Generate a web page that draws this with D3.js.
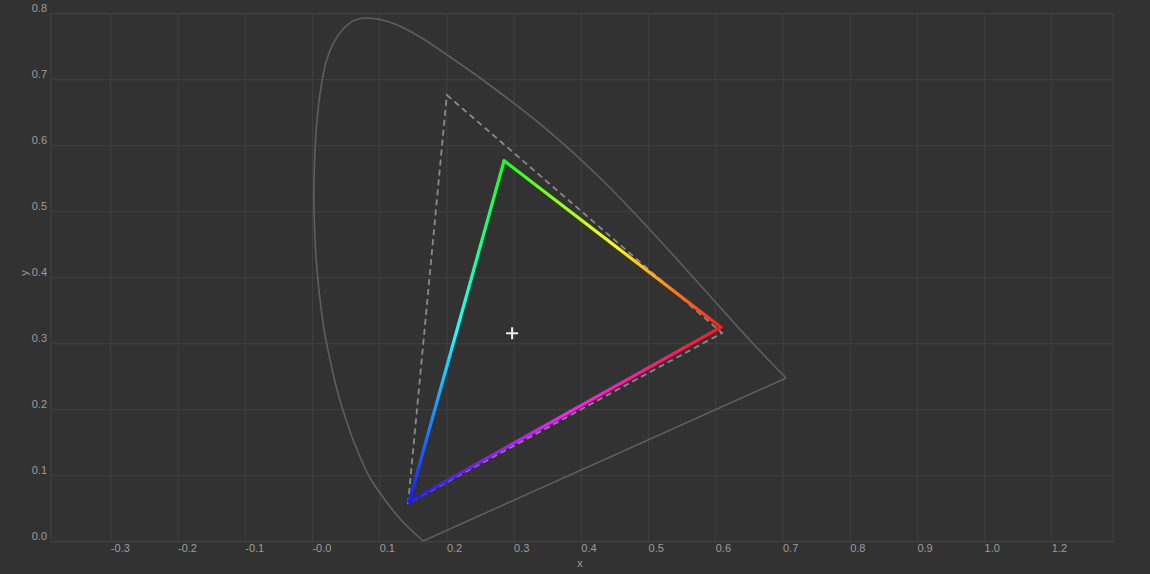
<!DOCTYPE html>
<html><head><meta charset="utf-8">
<script src="https://cdn.jsdelivr.net/npm/d3@7"></script>
<style>html,body{margin:0;padding:0;background:#323232;}svg{display:block;}</style>
</head><body>
<svg id="c" width="1150" height="574"></svg>
<script>
// ---- data ----
const xTickValues = [-0.3,-0.2,-0.1,0.0,0.1,0.2,0.3,0.4,0.5,0.6,0.7,0.8,0.9,1.0,1.1];
const xTickLabels = ["-0.3","-0.2","-0.1","-0.0","0.1","0.2","0.3","0.4","0.5","0.6","0.7","0.8","0.9","1.0","1.2"];
const yTickValues = [0.0,0.1,0.2,0.3,0.4,0.5,0.6,0.7,0.8];
const yTickLabels = ["0.0","0.1","0.2","0.3","0.4","0.5","0.6","0.7","0.8"];
const locusX = [0.1646,0.1318,0.1080,0.0857,0.0664,0.0500,0.0366,0.0262,0.0173,0.0113,0.0068,0.0039,0.0024,0.0024,0.0039,0.0068,0.0121,0.0202,0.0321,0.0470,0.0634,0.0813,0.1006,0.1229,0.1601,0.2048,0.2494,0.3387,0.4280,0.5024,0.5768,0.6512,0.7048];
const locusY = [0.0011,0.0329,0.0632,0.0965,0.1389,0.1844,0.2298,0.2753,0.3208,0.3662,0.4117,0.4571,0.5026,0.5480,0.5935,0.6389,0.6844,0.7268,0.7571,0.7783,0.7905,0.7935,0.7912,0.7844,0.7647,0.7344,0.7026,0.6329,0.5510,0.4723,0.3889,0.3048,0.2480];
const gamutNames = ["G","R","B"];
const gamutX = [0.2851,0.6077,0.1438];
const gamutY = [0.5772,0.3250,0.0606];
const refX = [0.1999,0.6095,0.1423];
const refY = [0.6768,0.3162,0.0586];
const whiteX = [0.2970];
const whiteY = [0.3158];

// ---- scales ----
const W=1150,H=574;
const L=51,R=1113,T=13.7,B=541.7;
const x = d3.scaleLinear().domain([-0.389,1.191]).range([L,R]);
const y = d3.scaleLinear().domain([0,0.8]).range([B,T]);
const svg = d3.select("#c");
svg.append("rect").attr("width",W).attr("height",H).attr("fill","#323232");

const grid = svg.append("g");
grid.selectAll("line.vx").data(xTickValues).join("line")
  .attr("x1",d=>x(d)).attr("x2",d=>x(d)).attr("y1",T).attr("y2",B)
  .attr("stroke","#404040").attr("stroke-width",1);
grid.selectAll("line.hy").data(yTickValues).join("line").attr("class","hy")
  .attr("x1",L).attr("x2",R).attr("y1",d=>y(d)).attr("y2",d=>y(d))
  .attr("stroke","#404040").attr("stroke-width",1);
svg.append("rect").attr("x",L).attr("y",T).attr("width",R-L).attr("height",B-T)
  .attr("fill","none").attr("stroke","#414141").attr("stroke-width",1);

const font = "'Liberation Sans', Arial, sans-serif";
svg.append("g").selectAll("text").data(xTickValues).join("text")
  .attr("x",(d)=>x(d)).attr("y",552).attr("text-anchor","start")
  .attr("font-family",font).attr("font-size",11).attr("fill","#9c9c9c")
  .text((d,i)=>xTickLabels[i]);
svg.append("g").selectAll("text").data(yTickValues).join("text")
  .attr("x",47).attr("y",d=>y(d)-1.5).attr("text-anchor","end")
  .attr("font-family",font).attr("font-size",11).attr("fill","#9c9c9c")
  .text((d,i)=>yTickLabels[i]);
svg.append("text").attr("x",580).attr("y",567).attr("text-anchor","middle")
  .attr("font-family",font).attr("font-size",11).attr("fill","#9c9c9c").text("x");
svg.append("text").attr("transform","translate(28,273) rotate(-90)").attr("text-anchor","middle")
  .attr("font-family",font).attr("font-size",11).attr("fill","#9c9c9c").text("y");

// ---- spectral locus ----
const locus = locusX.map((v,i)=>[x(v),y(locusY[i])]);
svg.append("path").attr("d",d3.line().curve(d3.curveCatmullRom.alpha(0.5))(locus))
  .attr("fill","none").attr("stroke","#5e5e5e").attr("stroke-width",1.6);
svg.append("path").attr("d",d3.line()([locus[locus.length-1],locus[0]]))
  .attr("fill","none").attr("stroke","#5e5e5e").attr("stroke-width",1.6);

// ---- reference (dashed) triangle ----
const refPts = refX.map((v,i)=>[x(v),y(refY[i])]);
svg.append("path").attr("d",d3.line()(refPts)+"Z")
  .attr("fill","none").attr("stroke","#8a8a8a").attr("stroke-width",1.8)
  .attr("stroke-dasharray","6,4");

// ---- colored gamut triangle ----
const defs = svg.append("defs");
const gPts = gamutX.map((v,i)=>[x(v),y(gamutY[i])]);
const edges = [[0,1,120,0],[1,2,360,240],[2,0,240,120]];
edges.forEach((e,k)=>{
  const a=gPts[e[0]], b=gPts[e[1]];
  const id="grad"+k;
  const lg = defs.append("linearGradient").attr("id",id).attr("gradientUnits","userSpaceOnUse")
    .attr("x1",a[0]).attr("y1",a[1]).attr("x2",b[0]).attr("y2",b[1]);
  const n=6;
  for(let s=0;s<=n;s++){
    const t=s/n;
    const h=e[2]+(e[3]-e[2])*t;
    lg.append("stop").attr("offset",t).attr("stop-color",d3.hsl(h%360,1,0.55).formatHex());
  }
  svg.append("path").attr("d",d3.line()([a,b]))
    .attr("fill","none").attr("stroke","url(#"+id+")").attr("stroke-width",3.2)
    .attr("stroke-linecap","round");
});

// ---- white point ----
const wp = svg.append("g");
whiteX.forEach((v,i)=>{
  const cx=x(v), cy=y(whiteY[i]);
  wp.append("line").attr("x1",cx-6).attr("x2",cx+6).attr("y1",cy).attr("y2",cy)
    .attr("stroke","#f0f0f0").attr("stroke-width",2);
  wp.append("line").attr("x1",cx).attr("x2",cx).attr("y1",cy-6).attr("y2",cy+6)
    .attr("stroke","#f0f0f0").attr("stroke-width",2);
});
</script>
</body></html>
